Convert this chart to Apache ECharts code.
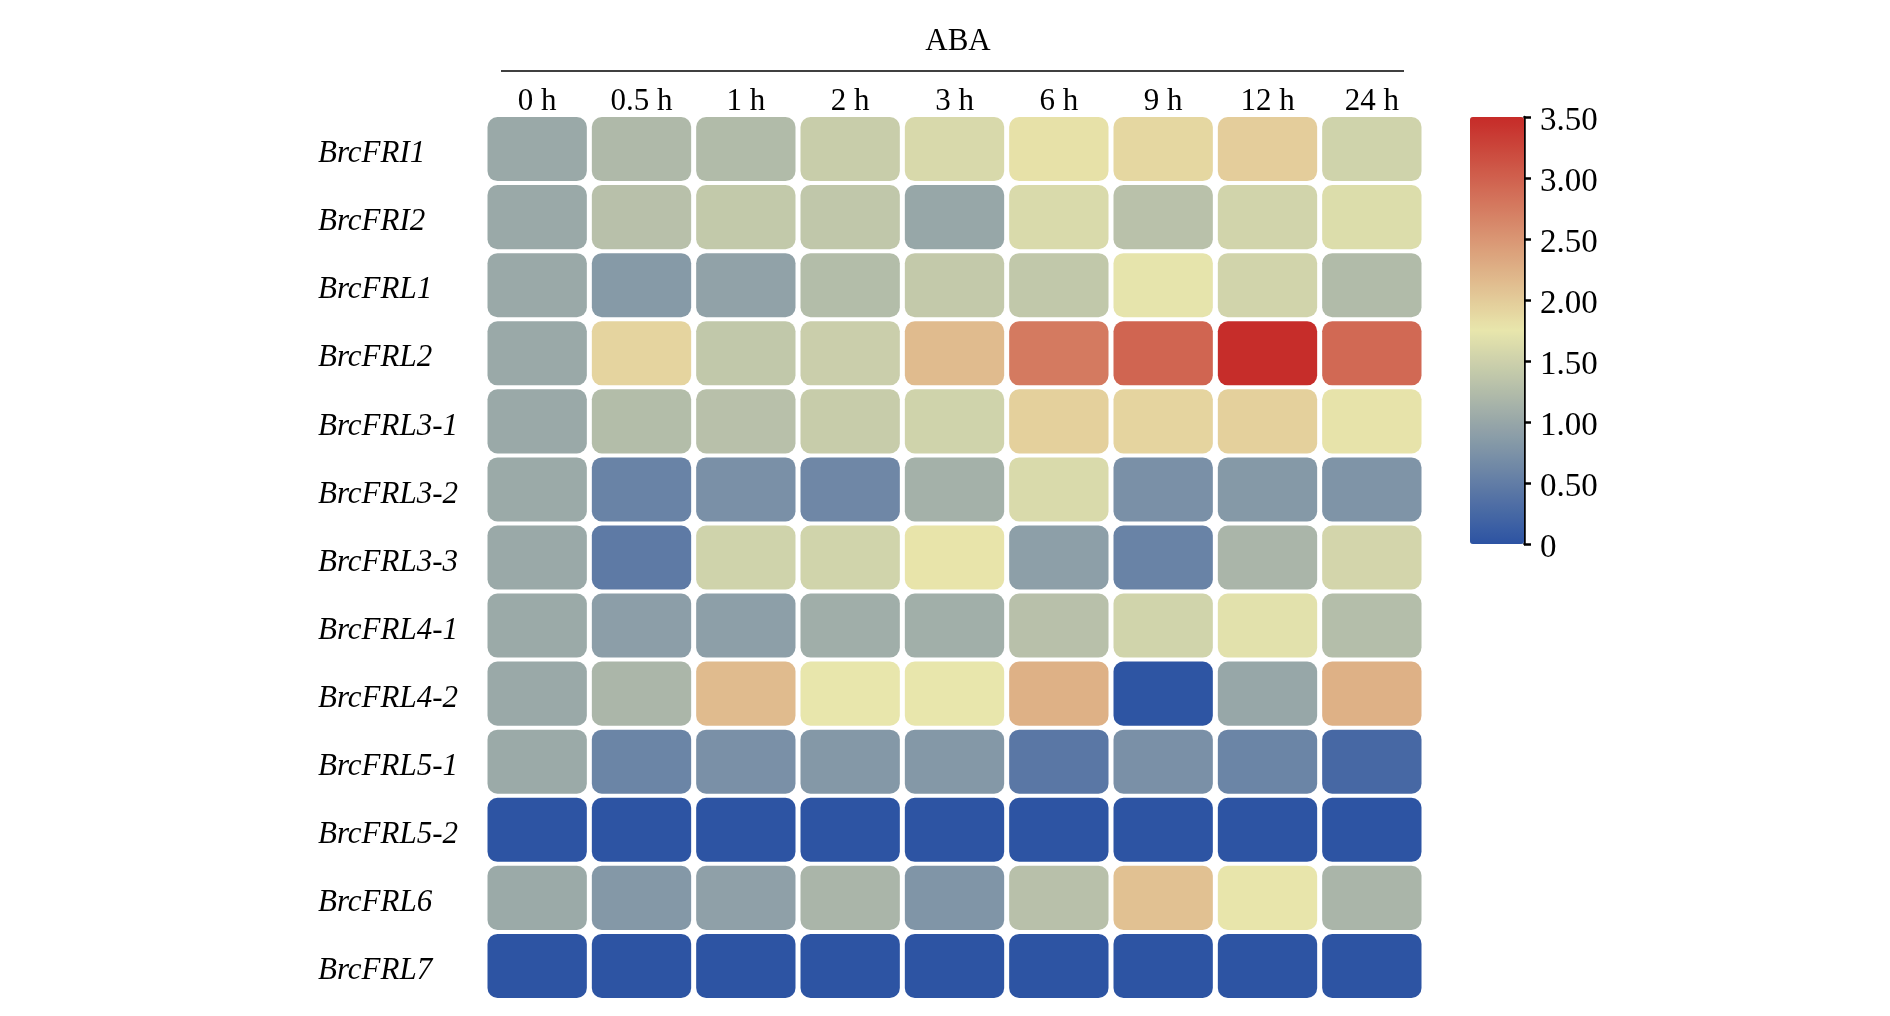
<!DOCTYPE html>
<html><head><meta charset="utf-8">
<script src="https://cdn.jsdelivr.net/npm/echarts@6/dist/echarts.min.js"></script>
<style>html,body{margin:0;padding:0;background:#fff}#c{width:1890px;height:1016px}</style>
</head><body><div id="c"></div>
<script>
const treatment = 'ABA';
const timePoints = ['0 h', '0.5 h', '1 h', '2 h', '3 h', '6 h', '9 h', '12 h', '24 h'];
const genes = ['BrcFRI1', 'BrcFRI2', 'BrcFRL1', 'BrcFRL2', 'BrcFRL3-1', 'BrcFRL3-2', 'BrcFRL3-3',
  'BrcFRL4-1', 'BrcFRL4-2', 'BrcFRL5-1', 'BrcFRL5-2', 'BrcFRL6', 'BrcFRL7'];

const BrcFRI1   = [1.02, 1.22, 1.24, 1.45, 1.60, 1.80, 1.89, 1.98, 1.52];
const BrcFRI2   = [1.02, 1.30, 1.40, 1.38, 1.00, 1.61, 1.31, 1.54, 1.64];
const BrcFRL1   = [1.02, 0.84, 0.94, 1.26, 1.41, 1.39, 1.73, 1.54, 1.24];
const BrcFRL2   = [1.02, 1.92, 1.39, 1.47, 2.15, 2.76, 2.96, 3.48, 2.92];
const BrcFRL3_1 = [1.02, 1.26, 1.30, 1.44, 1.52, 1.96, 1.92, 1.96, 1.78];
const BrcFRL3_2 = [1.03, 0.57, 0.73, 0.62, 1.12, 1.61, 0.73, 0.83, 0.77];
const BrcFRL3_3 = [1.02, 0.47, 1.52, 1.53, 1.77, 0.90, 0.57, 1.17, 1.55];
const BrcFRL4_1 = [1.03, 0.89, 0.90, 1.08, 1.09, 1.30, 1.53, 1.69, 1.27];
const BrcFRL4_2 = [1.02, 1.18, 2.15, 1.75, 1.75, 2.25, 0.02, 1.00, 2.25];
const BrcFRL5_1 = [1.03, 0.59, 0.73, 0.82, 0.82, 0.43, 0.73, 0.59, 0.25];
const BrcFRL5_2 = [0.01, 0.01, 0.01, 0.01, 0.01, 0.01, 0.01, 0.01, 0.01];
const BrcFRL6   = [1.03, 0.82, 0.92, 1.17, 0.78, 1.30, 2.10, 1.76, 1.17];
const BrcFRL7   = [0.01, 0.01, 0.01, 0.01, 0.01, 0.01, 0.01, 0.01, 0.01];

const colorbarTicks = [0, 0.5, 1, 1.5, 2, 2.5, 3, 3.5];
const colorbarTickLabels = ['0', '0.50', '1.00', '1.50', '2.00', '2.50', '3.00', '3.50'];

const rows = [BrcFRI1, BrcFRI2, BrcFRL1, BrcFRL2, BrcFRL3_1, BrcFRL3_2, BrcFRL3_3,
  BrcFRL4_1, BrcFRL4_2, BrcFRL5_1, BrcFRL5_2, BrcFRL6, BrcFRL7];
const data = [];
rows.forEach((r, i) => r.forEach((v, j) => data.push([j, i, v])));

const FONT = "'Liberation Serif', 'Times New Roman', serif";
const chart = echarts.init(document.getElementById('c'));
chart.setOption({
  backgroundColor: '#fff',
  animation: false,
  graphic: [
    {
      type: 'text', x: 958, y: 42,
      style: { text: treatment, fontFamily: FONT, fontSize: 31, fill: '#000', align: 'center', verticalAlign: 'middle' }
    },
    {
      type: 'line', shape: { x1: 501, y1: 71, x2: 1404, y2: 71 },
      style: { stroke: '#000', lineWidth: 1.5 }
    }
  ],
  grid: [
    { left: 485, top: 115, width: 939, height: 885 },
    { left: 1470, top: 117, width: 54, height: 427 }
  ],
  xAxis: [
    {
      type: 'category', data: timePoints, position: 'top', gridIndex: 0,
      axisLine: { show: false }, axisTick: { show: false }, splitLine: { show: false },
      axisLabel: { fontFamily: FONT, fontSize: 31, color: '#000', margin: -2 }
    },
    { type: 'value', gridIndex: 1, show: false, min: 0, max: 1 }
  ],
  yAxis: [
    {
      type: 'category', data: genes, inverse: true, gridIndex: 0,
      axisLine: { show: false }, axisTick: { show: false }, splitLine: { show: false },
      axisLabel: {
        fontFamily: FONT, fontSize: 31, fontStyle: 'italic', color: '#000', align: 'left', margin: 167,
        verticalAlign: 'top', lineHeight: 10
      }
    },
    {
      type: 'value', gridIndex: 1, position: 'right', min: 0, max: 3.5, interval: 0.5,
      axisLine: { show: true, onZero: false, lineStyle: { color: '#000', width: 2.5 } },
      axisTick: { show: true, inside: false, length: 7, lineStyle: { color: '#000', width: 2.5 } },
      splitLine: { show: false },
      axisLabel: {
        fontFamily: FONT, fontSize: 33, color: '#000', margin: 16,
        verticalAlign: 'top', lineHeight: 9,
        formatter: v => colorbarTickLabels[colorbarTicks.indexOf(v)]
      }
    }
  ],
  visualMap: {
    type: 'continuous', min: 0, max: 3.5, dimension: 2, seriesIndex: 0,
    calculable: false, realtime: false, show: true, hoverLink: false,
    left: 1470, top: 117, itemWidth: 54, itemHeight: 427, padding: 0,
    text: null, showLabel: false,
    inRange: { color: ['#2c53a3', '#e8e6ac', '#c62b28'] }
  },
  series: [{
    type: 'custom', xAxisIndex: 0, yAxisIndex: 0, data: data,
    encode: { x: 0, y: 1 },
    renderItem: function (params, api) {
      const c = api.coord([api.value(0), api.value(1)]);
      const s = api.size([1, 1]);
      const w = s[0] - 5, h = s[1] - 4;
      return {
        type: 'rect',
        shape: { x: c[0] - w / 2, y: c[1] - h / 2, width: w, height: h, r: 10 },
        style: { fill: api.visual('color') }
      };
    }
  }]
});
</script></body></html>
